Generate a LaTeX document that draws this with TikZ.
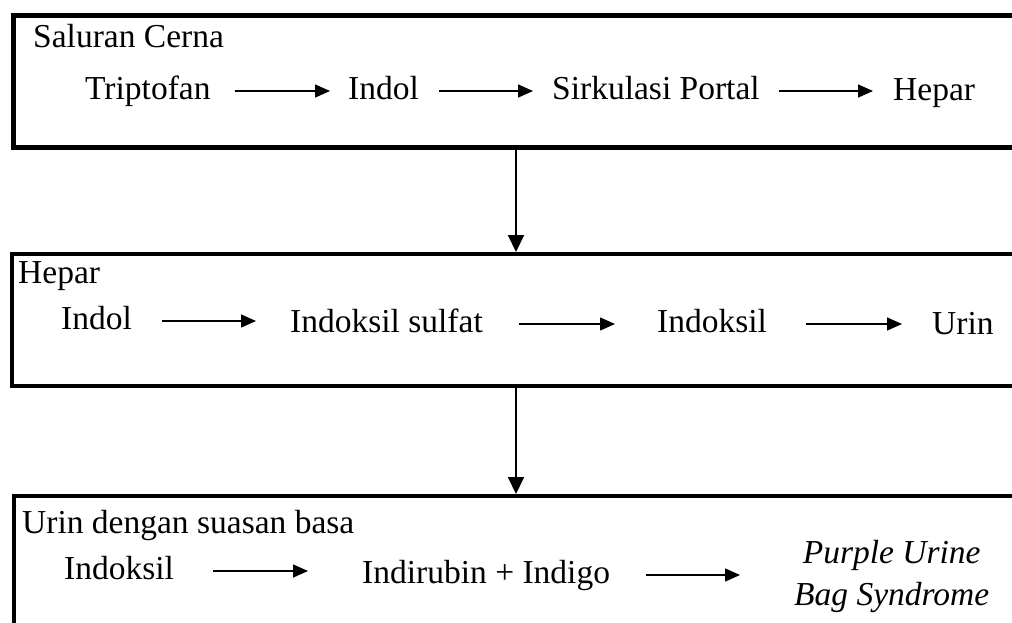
\documentclass[tikz,border=0pt]{standalone}
\usepackage{fontspec}
\setmainfont{Liberation Serif}
\usetikzlibrary{arrows.meta}
\begin{document}
\begin{tikzpicture}[x=1pt,y=-1pt,
  lbl/.style={inner sep=0pt, anchor=base west, font=\fontsize{33.5}{40}\selectfont, text height=23pt, text depth=7pt},
  boxA/.style={draw, line width=5pt, inner sep=0pt, anchor=north west},
  boxB/.style={draw, line width=4pt, inner sep=0pt, anchor=north west},
  harr/.style={line width=1.5pt, -{Triangle[length=15pt,width=13pt]}},
  varr/.style={line width=2pt, -{Triangle[length=17pt,width=16pt]}}]
\useasboundingbox (0,0) rectangle (1012,622);
\clip (0,0) rectangle (1012,622);
% boxes
\node[boxA, minimum width=1030pt, minimum height=132pt] (box1) at (11,12.5) {};
\node[boxB, minimum width=1030pt, minimum height=132pt] (box2) at (10,252) {};
\node[boxB, minimum width=1030pt, minimum height=160pt] (box3) at (12,494) {};
% row 1
\node[lbl] (t1) at (33,47) {Saluran Cerna};
\node[lbl] (trip) at (85,99) {Triptofan};
\node[lbl] (indol1) at (348,99) {Indol};
\node[lbl] (sirk) at (552,99) {Sirkulasi Portal};
\node[lbl] (hepar1) at (893,100) {Hepar};
\draw[harr, shorten <=24pt, shorten >=18pt] (trip.east) -- (trip.east -| indol1.west);
\draw[harr, shorten <=20pt, shorten >=19pt] (indol1.east) -- (indol1.east -| sirk.west);
\draw[harr, shorten <=19pt, shorten >=20pt] (sirk.east) -- (sirk.east -| hepar1.west);
% row 2
\node[lbl] (t2) at (18,283) {Hepar};
\node[lbl] (indol2) at (61,329) {Indol};
\node[lbl] (sulfat) at (290,332) {Indoksil sulfat};
\node[lbl] (indok2) at (657,332) {Indoksil};
\node[lbl] (urin) at (932,334) {Urin};
\draw[harr, shorten <=30pt, shorten >=34pt] (indol2.east) -- (indol2.east -| sulfat.west);
\draw[harr, shorten <=36pt, shorten >=42pt] (sulfat.east) -- (sulfat.east -| indok2.west);
\draw[harr, shorten <=39pt, shorten >=30pt] (indok2.east) -- (indok2.east -| urin.west);
% row 3
\node[lbl] (t3) at (22,533) {Urin dengan suasan basa};
\node[lbl] (indok3) at (64,579) {Indoksil};
\node[lbl] (indi) at (362,583) {Indirubin + Indigo};
\node[inner sep=0pt, anchor=west, align=center, font=\fontsize{33.5}{42}\selectfont\itshape] (pubs) at (794,576) {Purple Urine\\Bag Syndrome};
\draw[harr, shorten <=39pt, shorten >=54pt] (indok3.east) -- (indok3.east -| indi.west);
\draw[harr, shorten <=36pt, shorten >=54pt] (indi.east) -- (indi.east -| pubs.west);
% vertical connectors
\coordinate (v1) at (516,144.5);
\coordinate (v2) at (516,384);
\draw[varr] (v1) -- (v1 |- box2.north);
\draw[varr] (v2) -- (v2 |- box3.north);
\end{tikzpicture}
\end{document}
